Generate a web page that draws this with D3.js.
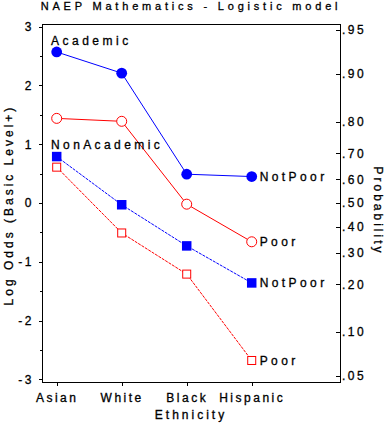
<!DOCTYPE html>
<html>
<head>
<meta charset="utf-8">
<script src="https://cdn.jsdelivr.net/npm/d3@7"></script>
<style>
  body { margin: 0; background: #fff; }
  svg text { font-family: "Liberation Sans", Arial, sans-serif; fill: #000; stroke: #000; stroke-width: 0.3px; }
</style>
</head>
<body>
<div id="container"></div>
<script>
var width = 388, height = 423;

// donnees (log odds)
var ethnicity = ["Asian", "White", "Black", "Hispanic"];
var acadNotPoor = [2.57, 2.21, 0.49, 0.45];
var acadPoor = [1.44, 1.39, -0.02, -0.66];
var nonAcadNotPoor = [0.79, -0.03, -0.73, -1.36];
var nonAcadPoor = [0.61, -0.51, -1.21, -2.68];

var logitTicks = [-3, -2, -1, 0, 1, 2, 3];
var minorTicks = [-2.5, -1.5, -0.5, 0.5, 1.5, 2.5];
var probTicks = [0.05, 0.10, 0.20, 0.30, 0.40, 0.50, 0.60, 0.70, 0.80, 0.90, 0.95];
var probLabels = [".05", ".10", ".20", ".30", ".40", ".50", ".60", ".70", ".80", ".90", ".95"];

// marges du cadre (pas "top" : reserve par window)
var pLeft = 42, pRight = 340, pTop = 24, pBottom = 382;

var svg = d3.select("#container")
    .append("svg")
    .attr("width", width)
    .attr("height", height);

var x = d3.scaleLinear().domain([0.774, 5.358]).range([pLeft, pRight]);
var y = d3.scaleLinear().domain([-3.046, 3.046]).range([pBottom, pTop]);

function logit(p) { return Math.log(p / (1 - p)); }

// cadre
svg.append("rect")
    .attr("x", pLeft + 0.5).attr("y", pTop + 0.5)
    .attr("width", pRight - pLeft).attr("height", pBottom - pTop)
    .attr("fill", "none").attr("stroke", "#000").attr("stroke-width", 1)
    .attr("shape-rendering", "crispEdges");

// axe gauche
svg.append("g")
    .attr("transform", "translate(" + pLeft + ",0)")
    .call(d3.axisLeft(y).tickValues(logitTicks).tickSize(3).tickPadding(5)
        .tickFormat(function(d) { return String(d); }));
svg.append("g")
    .attr("transform", "translate(" + pLeft + ",0)")
    .call(d3.axisLeft(y).tickValues(minorTicks).tickSize(2).tickFormat(""));

// axe droit (probabilite)
svg.append("g")
    .attr("transform", "translate(" + pRight + ",0)")
    .call(d3.axisRight(y).tickValues(probTicks.map(logit)).tickSize(-4).tickPadding(2)
        .tickFormat(function(d, i) { return probLabels[i]; }));

// axe du bas
var xAxis = svg.append("g")
    .attr("transform", "translate(0," + pBottom + ")")
    .call(d3.axisBottom(x).tickValues([1, 2, 3, 4]).tickSize(4)
        .tickFormat(function(d) { return ethnicity[d - 1]; }));
xAxis.selectAll("text").attr("y", 20).attr("dy", null);

svg.selectAll(".domain").remove();
svg.selectAll(".tick line").attr("stroke", "#000").attr("shape-rendering", "crispEdges");
svg.selectAll(".tick text")
    .style("font-size", "12px")
    .style("letter-spacing", "2.5px")
    .attr("fill", "#000");

// series
var series = [
  { values: acadNotPoor, color: "blue", shape: "circle", filled: true, dash: null, label: "NotPoor" },
  { values: acadPoor, color: "red", shape: "circle", filled: false, dash: null, label: "Poor" },
  { values: nonAcadNotPoor, color: "blue", shape: "square", filled: true, dash: "3,1", label: "NotPoor" },
  { values: nonAcadPoor, color: "red", shape: "square", filled: false, dash: "3,1", label: "Poor" }
];

var line = d3.line()
    .x(function(d, i) { return x(i + 1); })
    .y(function(d) { return y(d); });

series.forEach(function(s) {
    svg.append("path")
        .datum(s.values)
        .attr("d", line)
        .attr("fill", "none")
        .attr("stroke", s.color)
        .attr("stroke-width", 1)
        .attr("stroke-dasharray", s.dash);

    var pts = svg.selectAll(null).data(s.values).enter();
    if (s.shape == "circle") {
        pts.append("circle")
            .attr("cx", function(d, i) { return x(i + 1); })
            .attr("cy", function(d) { return y(d); })
            .attr("r", s.filled ? 5.4 : 5)
            .attr("fill", s.filled ? s.color : "#fff")
            .attr("stroke", s.color)
            .attr("stroke-width", s.filled ? 0 : 1);
    } else {
        var size = s.filled ? 9.5 : 8;
        pts.append("rect")
            .attr("x", function(d, i) { return x(i + 1) - size / 2; })
            .attr("y", function(d) { return y(d) - size / 2; })
            .attr("width", size).attr("height", size)
            .attr("fill", s.filled ? s.color : "#fff")
            .attr("stroke", s.filled ? "none" : s.color)
            .attr("stroke-width", 1);
    }

    // etiquette en bout de courbe
    svg.append("text")
        .attr("x", x(4) + 8)
        .attr("y", y(s.values[3]) + 4.5)
        .style("font-size", "12px")
        .style("letter-spacing", "3.4px")
        .text(s.label);
});

// etiquettes des groupes
svg.append("text").attr("x", 51).attr("y", 44.5)
    .style("font-size", "12px").style("letter-spacing", "3.5px").text("Academic");
svg.append("text").attr("x", 51).attr("y", 149)
    .style("font-size", "12px").style("letter-spacing", "3.4px").text("NonAcademic");

// titre
svg.append("text")
    .attr("x", 191).attr("y", 10)
    .attr("text-anchor", "middle")
    .style("font-size", "11px").style("letter-spacing", "3.8px")
    .text("NAEP Mathematics - Logistic model");

// titres des axes
svg.append("text")
    .attr("x", (pLeft + pRight) / 2).attr("y", 419)
    .attr("text-anchor", "middle")
    .style("font-size", "12px").style("letter-spacing", "3px")
    .text("Ethnicity");

svg.append("text")
    .attr("transform", "translate(13,205) rotate(-90)")
    .attr("text-anchor", "middle")
    .style("font-size", "12px").style("letter-spacing", "3px")
    .text("Log Odds (Basic Level+)");

svg.append("text")
    .attr("transform", "translate(374,211) rotate(90)")
    .attr("text-anchor", "middle")
    .style("font-size", "12px").style("letter-spacing", "3px")
    .text("Probability");
</script>
</body>
</html>
